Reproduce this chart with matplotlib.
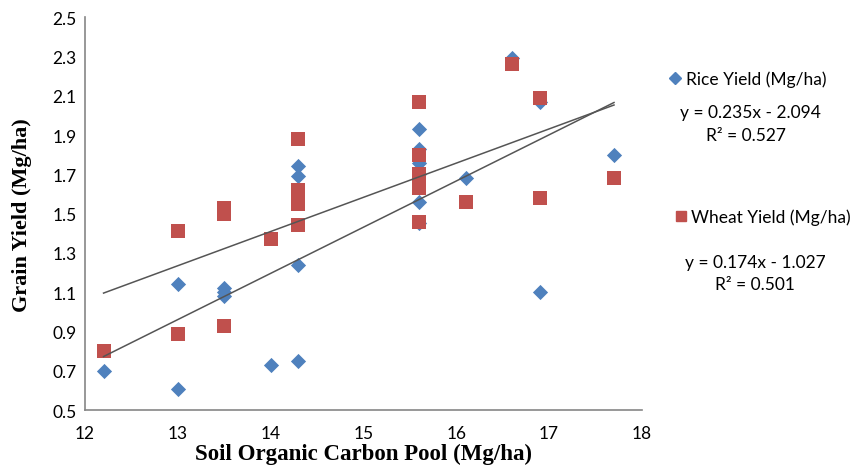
import numpy as np
import matplotlib
matplotlib.use("Agg")
from matplotlib import pyplot as plt
from matplotlib.lines import Line2D

# soil organic carbon pool (x) and yields
rice_x = [12.2, 13.0, 13.0, 13.5, 13.5, 13.5, 14.0, 14.3, 14.3, 14.3, 14.3,
          15.6, 15.6, 15.6, 15.6, 15.6, 15.6, 16.1, 16.6, 16.9, 16.9, 17.7]
rice_y = [0.70, 0.61, 1.14, 1.12, 1.10, 1.08, 0.73, 0.75, 1.24, 1.69, 1.74,
          1.45, 1.56, 1.76, 1.83, 1.93, 1.70, 1.68, 2.29, 2.07, 1.10, 1.80]

wheat_x = [12.2, 13.0, 13.0, 13.5, 13.5, 13.5, 14.0, 14.3, 14.3, 14.3, 14.3, 14.3,
           15.6, 15.6, 15.6, 15.6, 15.6, 15.6, 16.1, 16.6, 16.9, 16.9, 17.7]
wheat_y = [0.80, 1.41, 0.89, 1.53, 1.50, 0.93, 1.37, 1.88, 1.62, 1.58, 1.55, 1.44,
           2.07, 1.80, 1.70, 1.66, 1.63, 1.46, 1.56, 2.26, 2.09, 1.58, 1.68]

# linear fits printed on the chart
rice_fit = (0.235, -2.094)
wheat_fit = (0.174, -1.027)
fit_range = [12.2, 17.7]

blue = "#4F81BD"
red = "#C0504D"
sans = "Lato"

fig = plt.figure(figsize=(8.62, 4.77), dpi=100)
ax = fig.add_axes([0.0986, 0.138, 0.646, 0.824])

ax.scatter(wheat_x, wheat_y, marker="s", s=115, color=red, zorder=3, linewidths=0)
ax.scatter(rice_x, rice_y, marker="D", s=60, color=blue, zorder=2, linewidths=0)

xs = np.array(fit_range)
ax.plot(xs, rice_fit[0] * xs + rice_fit[1], color="#555555", lw=1.1, zorder=4)
ax.plot(xs, wheat_fit[0] * xs + wheat_fit[1], color="#555555", lw=1.1, zorder=4)

ax.set_xlim(12, 18)
ax.set_ylim(0.5, 2.5)
ax.set_xticks(range(12, 19))
ax.set_yticks(np.arange(0.5, 2.51, 0.2))
ax.set_yticklabels(["%.1f" % v for v in np.arange(0.5, 2.51, 0.2)])
ax.tick_params(length=0, labelsize=12.5)
ax.tick_params(axis="x", pad=11)
ax.tick_params(axis="y", pad=6)
for lab in ax.get_xticklabels() + ax.get_yticklabels():
    lab.set_family(sans)
for s in ["top", "right"]:
    ax.spines[s].set_visible(False)
for s in ["left", "bottom"]:
    ax.spines[s].set_color("#868686")
    ax.spines[s].set_linewidth(1.2)

ax.set_xlabel("Soil Organic Carbon Pool (Mg/ha)", family="Liberation Serif",
              fontweight="bold", fontsize=16.5)
ax.set_ylabel("Grain Yield (Mg/ha)", family="Liberation Serif",
              fontweight="bold", fontsize=16)
ax.xaxis.set_label_coords(0.5, -0.083)
ax.yaxis.set_label_coords(-0.095, 0.5)

# legend entries with equations underneath
h_rice = Line2D([], [], marker="D", ls="none", color=blue, markersize=6)
h_wheat = Line2D([], [], marker="s", ls="none", color=red, markersize=7)
fig.legend(handles=[h_rice], labels=["Rice Yield (Mg/ha)"], loc="center left",
           bbox_to_anchor=(0.777, 0.832), frameon=False, handlelength=0.6,
           handletextpad=0.35, borderpad=0, borderaxespad=0,
           prop={"family": sans, "size": 12.5})
fig.legend(handles=[h_wheat], labels=["Wheat Yield (Mg/ha)"], loc="center left",
           bbox_to_anchor=(0.784, 0.543), frameon=False, handlelength=0.6,
           handletextpad=0.3, borderpad=0, borderaxespad=0,
           prop={"family": sans, "size": 12.5})

fig.text(0.870, 0.763, "y = %.3fx - %.3f" % (rice_fit[0], -rice_fit[1]),
         ha="center", va="center", fontsize=12.5, family=sans)
fig.text(0.865, 0.715, "R² = 0.527", ha="center", va="center",
         fontsize=12.5, family=sans)
fig.text(0.876, 0.449, "y = %.3fx - %.3f" % (wheat_fit[0], -wheat_fit[1]),
         ha="center", va="center", fontsize=12.5, family=sans)
fig.text(0.876, 0.402, "R² = 0.501", ha="center", va="center",
         fontsize=12.5, family=sans)

fig.savefig("out.png", dpi=100)
